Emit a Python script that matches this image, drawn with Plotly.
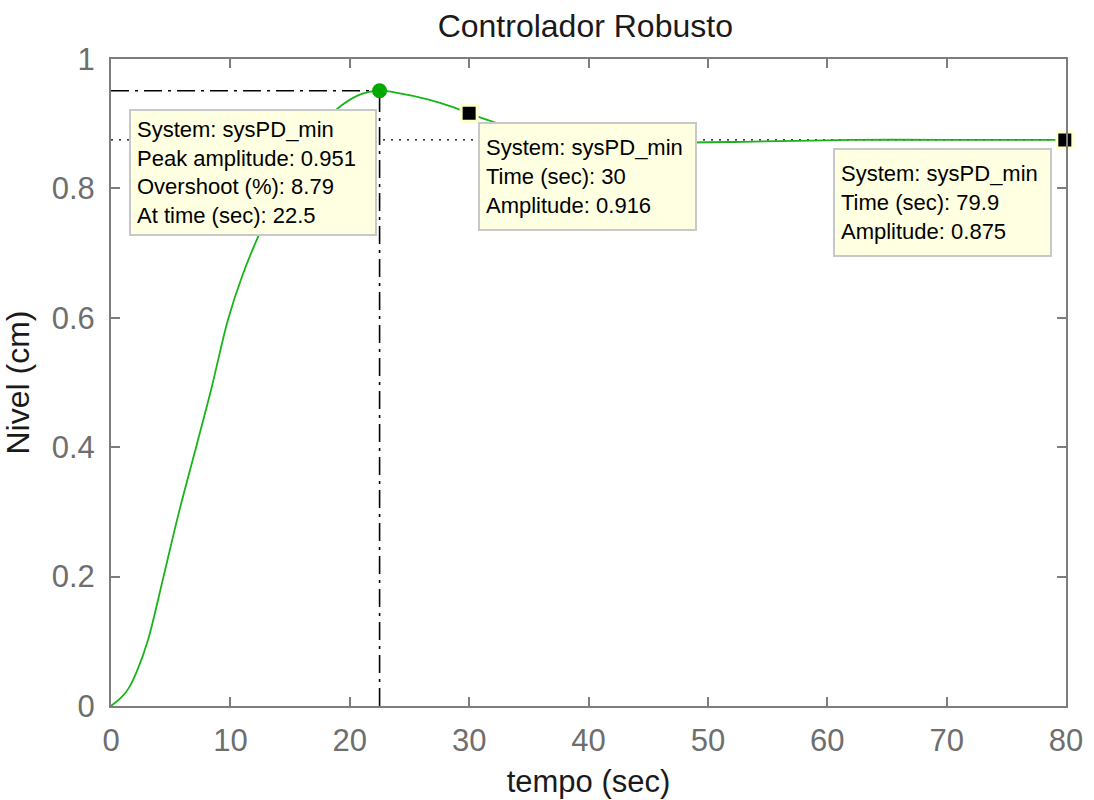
import plotly.graph_objects as go

# Step response of sysPD_min (robust controller)
t = [0, 0.9, 1.5, 2.2, 3.1, 4.4, 5.7, 7.2, 8.4, 9.8, 11.0, 12.2, 14.0, 16.0, 18.0,
     19.3, 21.0, 22.5, 24.2, 26.7, 28.6, 30.0, 32.0, 34.0, 36.0, 38.0, 40.0, 45.0,
     53.0, 62.0, 70.0, 79.9]
nivel = [0, 0.014, 0.028, 0.055, 0.102, 0.2, 0.3, 0.405, 0.49, 0.597, 0.665, 0.72,
         0.79, 0.855, 0.905, 0.928, 0.946, 0.951, 0.947, 0.937, 0.926, 0.916, 0.903,
         0.892, 0.884, 0.878, 0.874, 0.871, 0.872, 0.875, 0.875, 0.875]

peak_t, peak_amp, overshoot = 22.5, 0.951, 8.79
tip_t, tip_amp = 30, 0.916
end_t, end_amp = 79.9, 0.875
steady = 0.875

x_ticks = [0, 10, 20, 30, 40, 50, 60, 70, 80]
y_ticks = [0, 0.2, 0.4, 0.6, 0.8, 1]
y_tick_text = ["0", "0.2", "0.4", "0.6", "0.8", "1"]

GREEN = "#19b419"
FRAME = "#7d7d7d"
TIP_BG = "#ffffe1"
TIP_BORDER = "#c8c8c8"
FONT = "Liberation Sans"
DASHDOT = "18px,6px,3px,6px"

fig = go.Figure()

# steady-state reference
fig.add_trace(go.Scatter(x=[0, x_ticks[-1]], y=[steady, steady], mode="lines",
                         line=dict(color="black", width=1.3, dash="2px,6px"),
                         hoverinfo="skip"))
# peak guides
fig.add_trace(go.Scatter(x=[0, peak_t], y=[peak_amp, peak_amp], mode="lines",
                         line=dict(color="black", width=1.6, dash=DASHDOT),
                         hoverinfo="skip"))
fig.add_trace(go.Scatter(x=[peak_t, peak_t], y=[0, peak_amp], mode="lines",
                         line=dict(color="black", width=1.6, dash=DASHDOT),
                         hoverinfo="skip"))
# response curve
fig.add_trace(go.Scatter(x=t, y=nivel, mode="lines",
                         line=dict(color=GREEN, width=1.8, shape="spline", smoothing=1.0)))
# peak marker
fig.add_trace(go.Scatter(x=[peak_t], y=[peak_amp], mode="markers", cliponaxis=False,
                         marker=dict(color="#00a800", size=15, symbol="circle")))
# data-tip markers
fig.add_trace(go.Scatter(x=[tip_t, end_t], y=[tip_amp, end_amp], mode="markers",
                         cliponaxis=False,
                         marker=dict(color="black", size=16, symbol="square",
                                     line=dict(color="#ffffcc", width=3))))

tip_font = dict(family=FONT, size=22, color="black")

def tip(x, y, lines, xanchor, xshift, yshift, w, h):
    fig.add_annotation(x=x, y=y, xref="x", yref="y", showarrow=False,
                       text="<br>".join(lines), align="left", valign="middle",
                       xanchor=xanchor, yanchor="top", xshift=xshift, yshift=yshift,
                       width=w, height=h, bgcolor=TIP_BG, bordercolor=TIP_BORDER,
                       borderwidth=2, borderpad=6, font=tip_font)

tip(peak_t, peak_amp,
    ["System: sysPD_min", f"Peak amplitude: {peak_amp}",
     f"Overshoot (%): {overshoot}", f"At time (sec): {peak_t}"],
    "right", -3, -18, 232, 111)
tip(tip_t, tip_amp,
    ["System: sysPD_min", f"Time (sec): {tip_t}", f"Amplitude: {tip_amp}"],
    "left", 9, -9, 203, 93)
tip(end_t, end_amp,
    ["System: sysPD_min", f"Time (sec): {end_t}", f"Amplitude: {end_amp}"],
    "right", -13, -8, 203, 93)

axis_common = dict(showline=True, linecolor=FRAME, linewidth=2, mirror="ticks",
                   ticks="inside", ticklen=9, tickwidth=2, tickcolor=FRAME,
                   showgrid=False, zeroline=False, automargin=False,
                   tickfont=dict(family=FONT, size=31, color="#6e6e6e"))

fig.update_layout(
    width=1094, height=800,
    margin=dict(l=111, r=28, t=59, b=94),
    paper_bgcolor="white", plot_bgcolor="white",
    showlegend=False,
    title=dict(text="Controlador Robusto", x=0.535, xanchor="center",
               y=0.968, yanchor="middle",
               font=dict(family=FONT, size=32, color="#1a1a1a")),
    xaxis=dict(range=[0, 80], tickvals=x_ticks, ticklabelstandoff=6,
               title=dict(text="tempo (sec)", standoff=13,
                          font=dict(family=FONT, size=31, color="#1a1a1a")),
               **axis_common),
    yaxis=dict(range=[0, 1], tickvals=y_ticks, ticktext=y_tick_text,
               ticklabelstandoff=8,
               title=dict(text="Nivel (cm)", standoff=16,
                          font=dict(family=FONT, size=32, color="#1a1a1a")),
               **axis_common),
)

fig.write_html("out.html")
